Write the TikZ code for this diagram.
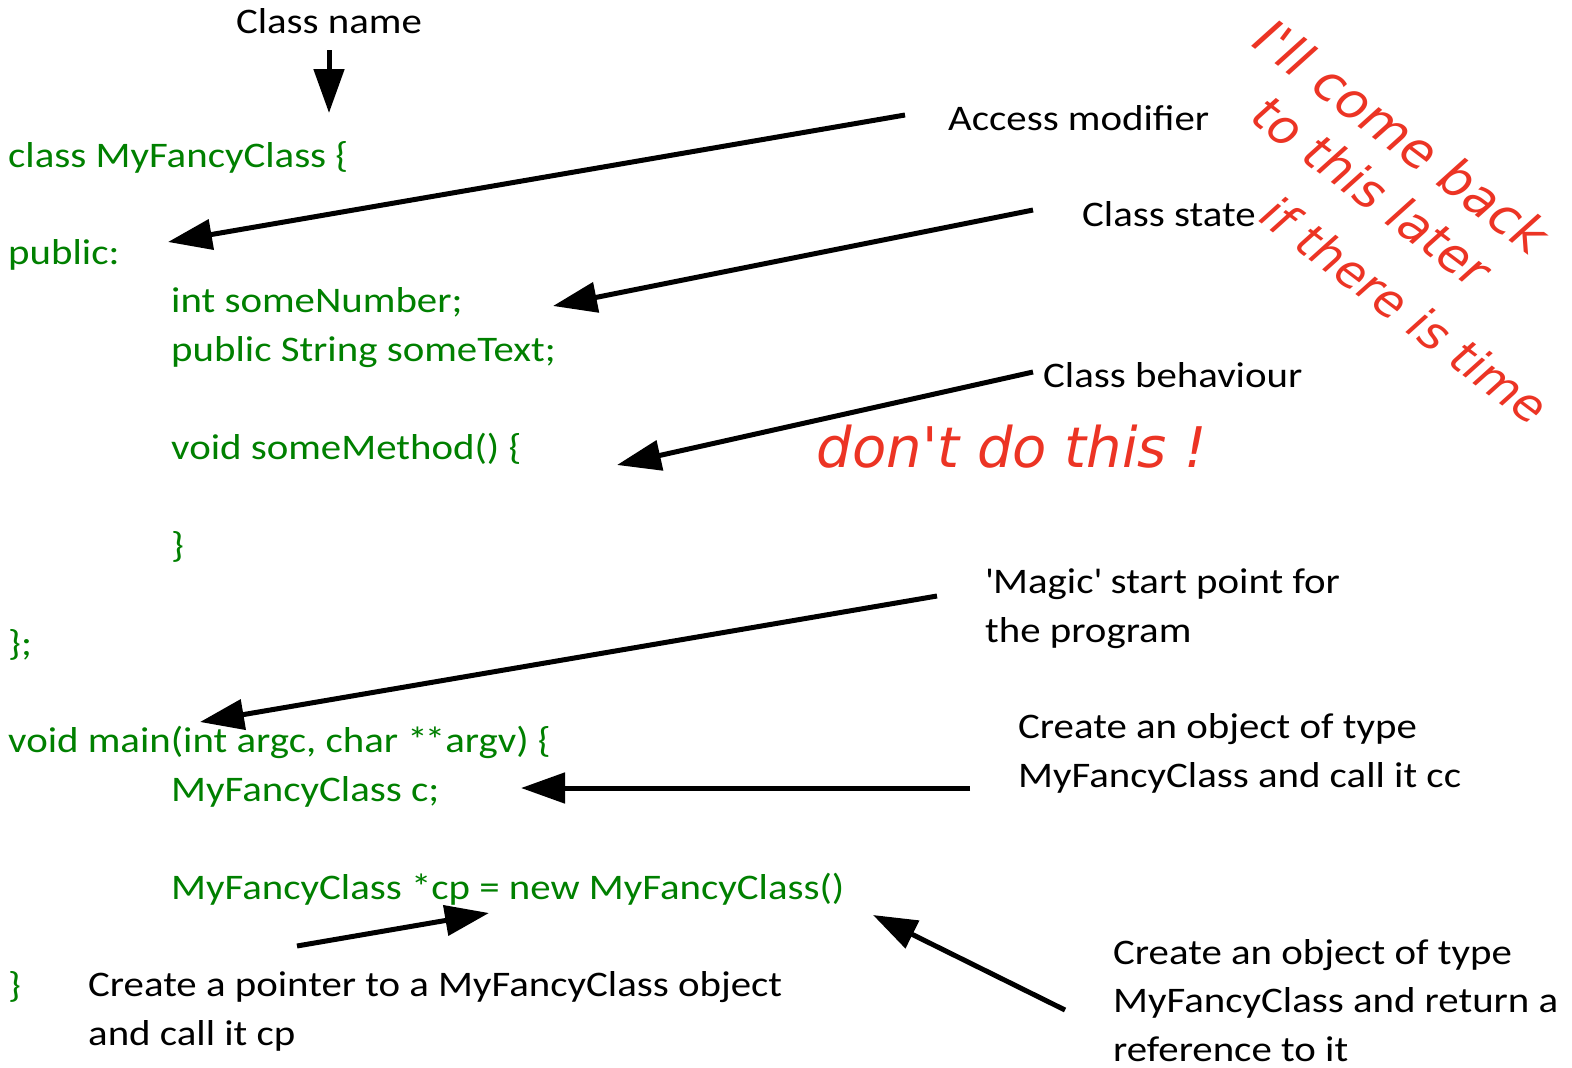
\documentclass[tikz,border=0pt]{standalone}
\usepackage{fontspec}
\setmainfont{Carlito}[FakeStretch=1.135]
\newfontfamily\handfont{DejaVu Sans}
\usetikzlibrary{arrows.meta}
\definecolor{codegreen}{RGB}{0,128,0}
\definecolor{pen}{RGB}{236,52,36}
\tikzset{
  code/.style={anchor=base west, inner sep=0pt, text=codegreen, font=\fontsize{36}{48}\selectfont},
  note/.style={anchor=base west, inner sep=0pt, text=black, align=left, font=\fontsize{36}{48.5}\selectfont},
  scribble/.style={inner sep=0pt, text=pen, font=\handfont\itshape},
  ptr/.style={line width=5pt, -{Triangle[length=44pt,width=30pt]}}
}
\begin{document}
\begin{tikzpicture}[x=1pt,y=-1pt]
\useasboundingbox (0,0) rectangle (1572,1068);
\fill[white] (0,0) rectangle (1572,1068);

% source listing
\node[code] (cls)    at (8,167)   {class MyFancyClass \{};
\node[code] (pub)    at (8,264)   {public:};
\node[code] (num)    at (171,312) {int someNumber;};
\node[code] (txt)    at (171,361) {public String someText;};
\node[code] (meth)   at (171,459) {void someMethod() \{};
\node[code] (mend)   at (171,557) {\}};
\node[code] (cend)   at (8,655)   {\};};
\node[code] (main)   at (8,752)   {void main(int argc, char *\kern-0.08em*argv) \{};
\node[code] (obj)    at (171,801) {MyFancyClass c;};
\node[code] (newobj) at (171,899) {MyFancyClass *cp = new MyFancyClass()};
\node[code] (mainend) at (8,997)  {\}};

% annotations (multi-line notes are placed by their last baseline)
\node[anchor=base, inner sep=0pt, font=\fontsize{36}{48}\selectfont] (cname) at (329,34) {Class name};
\node[note] (acc)   at (948,130)  {Access modifier};
\node[note] (state) at (1082,226) {Class state};
\node[note] (beh)   at (1043,387) {Class behaviour};
\node[note] (magic) at (985,642)  {\textquotesingle Magic\textquotesingle\ start point for\\the program};
\node[note] (mkobj) at (1018,787) {Create an object of type\\MyFancyClass and call it cc};
\node[note] (ptrnote) at (88,1045) {Create a pointer to a MyFancyClass object\\and call it cp};
\node[note] (mknew) at (1113,1061) {Create an object of type\\MyFancyClass and return a\\reference to it};

% arrow end points
\coordinate (cnA) at (329,50);   \coordinate (cnB) at (329,113);
\coordinate (accA) at (905,115); \coordinate (accB) at (168,242);
\coordinate (stA) at (1033,210); \coordinate (stB) at (553,306);
\coordinate (beA) at (1033,372); \coordinate (beB) at (617,465);
\coordinate (mgA) at (937,596);  \coordinate (mgB) at (200,722);
\coordinate (ccA) at (970,788);  \coordinate (ccB) at (521,788);
\coordinate (cpA) at (297,946);  \coordinate (cpB) at (489,913);
\coordinate (nwA) at (1065,1010); \coordinate (nwB) at (873,915);

\draw[ptr] (cnA) -- (cnB);
\draw[ptr] (accA) -- (accB);
\draw[ptr] (stA) -- (stB);
\draw[ptr] (beA) -- (beB);
\draw[ptr] (mgA) -- (mgB);
\draw[ptr] (ccA) -- (ccB);
\draw[ptr] (cpA) -- (cpB);
\draw[ptr] (nwA) -- (nwB);

% handwritten remarks
\node[scribble, font=\handfont\itshape\fontsize{56}{60}\selectfont] (dont) at (1012,447) {don't do this !};
\node[scribble, rotate=-37, font=\handfont\itshape\fontsize{51}{55}\selectfont] (l1) at (1402,136) {I'll come back};
\node[scribble, rotate=-37, font=\handfont\itshape\fontsize{49}{55}\selectfont] (l2) at (1372,191) {to this later};
\node[scribble, rotate=-37, font=\handfont\itshape\fontsize{47}{55}\selectfont] (l3) at (1405,310) {if there is time};
\end{tikzpicture}
\end{document}
